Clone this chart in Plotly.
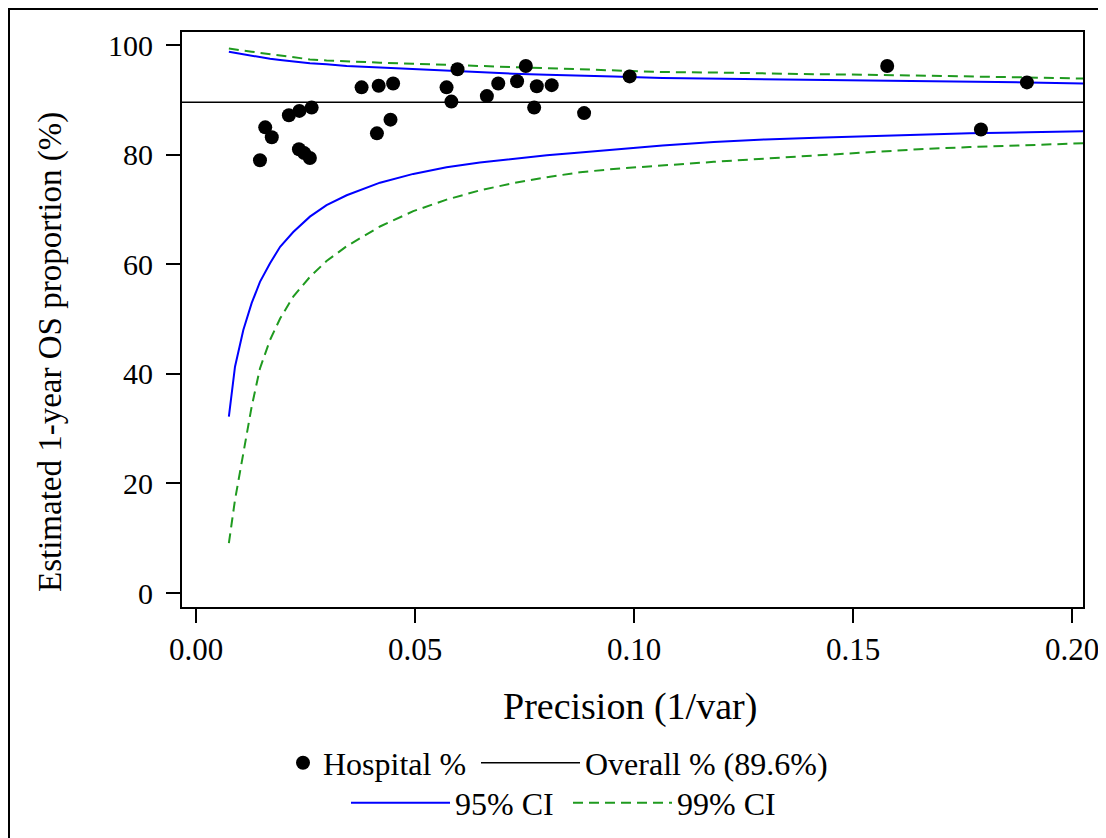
import plotly.graph_objects as go

# ---------------- data ----------------
hosp_precision = [0.0146, 0.0158, 0.0173, 0.0212, 0.0236, 0.0264, 0.0235, 0.0247, 0.0260,
                  0.0378, 0.0417, 0.0450, 0.0413, 0.0444, 0.0572, 0.0583, 0.0597, 0.0664,
                  0.0690, 0.0733, 0.0753, 0.0772, 0.0778, 0.0812, 0.0886, 0.0990, 0.1578,
                  0.1792, 0.1897]
hosp_pct = [79.0, 85.0, 83.2, 87.2, 88.0, 88.6, 81.0, 80.3, 79.4,
            92.3, 92.6, 93.0, 83.9, 86.4, 92.3, 89.7, 95.6, 90.7,
            93.0, 93.4, 96.2, 88.6, 92.5, 92.7, 87.6, 94.3, 96.2,
            84.6, 93.2]

overall_pct = 89.6
overall_x = [-0.01, 0.21]

ci_precision = [0.0075, 0.0089, 0.0108, 0.0127, 0.0146, 0.0169, 0.0192, 0.0222, 0.0260,
                0.0298, 0.0344, 0.0420, 0.0496, 0.0572, 0.0648, 0.0724, 0.0801, 0.0877,
                0.0953, 0.1065, 0.1182, 0.1299, 0.1416, 0.1533, 0.1650, 0.1766, 0.1900,
                0.2031]
lower95 = [32.2, 41.3, 48.0, 52.9, 56.8, 60.2, 63.2, 65.9, 68.7,
           70.8, 72.6, 74.9, 76.5, 77.7, 78.6, 79.3, 79.9, 80.4,
           80.9, 81.7, 82.3, 82.8, 83.1, 83.4, 83.7, 83.9, 84.1,
           84.3]
upper95 = [98.8, 98.6, 98.3, 98.0, 97.8, 97.5, 97.3, 97.0, 96.7,
           96.5, 96.2, 95.9, 95.6, 95.3, 95.0, 94.8, 94.6, 94.5,
           94.3, 94.0, 93.9, 93.7, 93.7, 93.6, 93.4, 93.3, 93.2,
           93.0]
lower99 = [9.1, 17.0, 25.5, 34.0, 41.0, 46.2, 50.1, 54.1, 57.7,
           60.6, 63.3, 66.9, 69.7, 71.8, 73.5, 74.8, 75.9, 76.8,
           77.4, 78.1, 78.7, 79.3, 79.9, 80.5, 81.0, 81.4, 81.8,
           82.1]
upper99 = [99.4, 99.2, 99.0, 98.8, 98.6, 98.3, 98.1, 97.8, 97.4,
           97.2, 97.0, 96.8, 96.6, 96.4, 96.2, 96.0, 95.8, 95.6,
           95.4, 95.1, 95.0, 94.8, 94.7, 94.6, 94.4, 94.2, 94.1,
           93.9]

x_ticks = [0.00, 0.05, 0.10, 0.15, 0.20]
y_ticks = [0, 20, 40, 60, 80, 100]

# ---------------- styling ----------------
FONT = "Liberation Serif"
BLUE = "#0000FF"
GREEN = "#1F9A1F"
W, H = 1106, 838
OFF = 8  # page body margin of the browser
# plot area wanted on screen (pixels), converted to figure coordinates
L, R, T, B = 182 - OFF, 1083 - OFF, 32 - OFF, 607 - OFF


def px_x(px):
    return (px - OFF - L) / (R - L)


def px_y(py):
    return (B - (py - OFF)) / (B - T)


fig = go.Figure()

# 95% CI
fig.add_trace(go.Scatter(x=ci_precision, y=upper95, mode="lines", name="95% CI",
                         line=dict(color=BLUE, width=2), legend="legend3"))
fig.add_trace(go.Scatter(x=ci_precision, y=lower95, mode="lines", name="95% CI",
                         line=dict(color=BLUE, width=2), legend="legend3", showlegend=False))
# 99% CI
fig.add_trace(go.Scatter(x=ci_precision, y=upper99, mode="lines", name="99% CI",
                         line=dict(color=GREEN, width=2, dash="10px,6px"), legend="legend4"))
fig.add_trace(go.Scatter(x=ci_precision, y=lower99, mode="lines", name="99% CI",
                         line=dict(color=GREEN, width=2, dash="10px,6px"), legend="legend4",
                         showlegend=False))
# overall
fig.add_trace(go.Scatter(x=overall_x, y=[overall_pct] * len(overall_x), mode="lines",
                         name="Overall % (89.6%)", line=dict(color="black", width=1.5),
                         legend="legend2"))
# hospitals
fig.add_trace(go.Scatter(x=hosp_precision, y=hosp_pct, mode="markers", name="Hospital %",
                         marker=dict(color="black", size=14), legend="legend"))

leg_font = dict(family=FONT, size=32, color="black")
row1_y = px_y(763)
row2_y = px_y(803)

fig.update_layout(
    width=W, height=H,
    margin=dict(l=L, r=W - R, t=T, b=H - B, autoexpand=False),
    paper_bgcolor="white", plot_bgcolor="white",
    font=dict(family=FONT, size=30, color="black"),
    showlegend=True,
    legend=dict(x=px_x(283), y=row1_y, xanchor="left", yanchor="middle",
                orientation="h", font=leg_font, itemwidth=30, bgcolor="rgba(0,0,0,0)"),
    legend2=dict(x=px_x(476), y=row1_y, xanchor="left", yanchor="middle",
                 orientation="h", font=leg_font, itemwidth=99, bgcolor="rgba(0,0,0,0)"),
    legend3=dict(x=px_x(346), y=row2_y, xanchor="left", yanchor="middle",
                 orientation="h", font=leg_font, itemwidth=99, bgcolor="rgba(0,0,0,0)"),
    legend4=dict(x=px_x(568), y=row2_y, xanchor="left", yanchor="middle",
                 orientation="h", font=leg_font, itemwidth=99, bgcolor="rgba(0,0,0,0)"),
    xaxis=dict(range=[-0.0032, 0.2025], tickvals=x_ticks, tickformat=".2f",
               showgrid=False, zeroline=False, showline=True, linecolor="black", linewidth=2,
               mirror=True, ticks="outside", ticklen=14, tickwidth=2, tickcolor="black",
               tickfont=dict(family=FONT, size=31), ticklabelstandoff=0),
    yaxis=dict(range=[-2.55, 102.4], tickvals=y_ticks,
               showgrid=False, zeroline=False, showline=True, linecolor="black", linewidth=2,
               mirror=True, ticks="outside", ticklen=14, tickwidth=2, tickcolor="black",
               tickfont=dict(family=FONT, size=30), ticklabelstandoff=7),
    annotations=[
        dict(text="Precision (1/var)", x=px_x(630), y=px_y(707), xref="paper", yref="paper",
             xanchor="center", yanchor="middle", showarrow=False,
             font=dict(family=FONT, size=38)),
        dict(text="Estimated 1-year OS proportion (%)", x=px_x(50), y=px_y(352),
             xref="paper", yref="paper", xanchor="center", yanchor="middle",
             textangle=-90, showarrow=False, font=dict(family=FONT, size=33)),
    ],
    shapes=[
        dict(type="line", xref="paper", yref="paper", x0=px_x(8), x1=px_x(1130),
             y0=px_y(9), y1=px_y(9), line=dict(color="black", width=2)),
        dict(type="line", xref="paper", yref="paper", x0=px_x(9), x1=px_x(9),
             y0=px_y(9), y1=px_y(860), line=dict(color="black", width=2)),
    ],
)

fig.write_html("out.html")
